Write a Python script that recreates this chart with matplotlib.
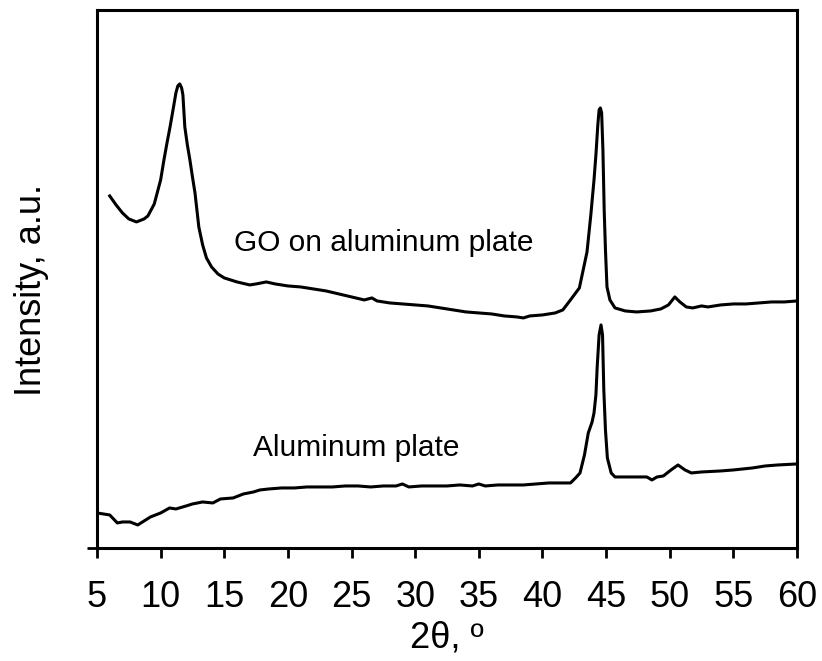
import matplotlib
matplotlib.use("Agg")
import matplotlib.pyplot as plt

plt.rcParams['font.family'] = ['Liberation Sans', 'DejaVu Sans']

# 2theta (deg) and intensity (a.u.)
go_x = [6.0, 6.5, 7.0, 7.5, 8.1, 8.7, 9.0, 9.5, 10.0, 10.26, 10.5, 10.74, 11.0, 11.2,
        11.35, 11.5, 11.65, 11.75, 11.9, 12.1, 12.3, 12.5, 12.7, 12.85, 13.0, 13.3,
        13.6, 14.0, 14.5, 15.0, 16.0, 17.0, 17.5, 18.3, 19.0,
        20.0, 21.0, 22.0, 23.0, 24.0, 25.0, 26.0, 26.6, 27.0, 28.0, 29.0, 30.0, 31.0,
        32.0, 33.0, 34.0, 35.0, 36.0, 37.0, 38.0, 38.5, 39.0, 40.0, 41.0, 41.6, 42.2,
        42.9, 43.5, 43.8, 44.05, 44.2, 44.35, 44.45, 44.55, 44.65, 44.75, 44.85, 44.95,
        45.07, 45.3, 45.7, 46.5, 47.4, 48.5,
        49.3, 49.9, 50.4, 50.8, 51.3, 51.8, 52.5, 53.0, 54.0, 55.0, 56.0, 57.0, 58.0,
        59.0, 60.0]
go_y = [352, 343, 335, 329, 326, 329, 332, 344, 368, 388, 405, 421, 440, 455,
        462, 464, 460, 453, 421, 403, 388, 371, 355, 338, 321, 303,
        290, 281, 274, 270, 266, 263, 264, 266, 264,
        262, 261, 259, 257, 254, 251, 248, 250, 247, 245, 244, 243, 242,
        240, 238, 236, 235, 234, 232, 231, 230, 232, 233, 235, 238, 248,
        260, 296, 333, 368, 393, 423, 438, 440, 435, 398, 338, 298,
        261, 248, 240, 237, 236, 237,
        239, 243, 251, 246, 241, 240, 242, 241, 243, 244, 244, 245, 246,
        246, 247]

al_x = [5.0, 5.5, 6.0, 6.6, 7.0, 7.6, 8.2, 8.7, 9.2, 10.0, 10.7, 11.2, 12.0, 12.5,
        13.3, 14.1, 14.7, 15.7, 16.5, 17.3, 17.8, 18.5, 19.5, 20.5, 21.5, 22.5, 23.5,
        24.5, 25.5, 26.5, 27.5, 28.5, 29.0, 29.5, 30.5, 31.5, 32.5, 33.5, 34.5, 35.0,
        35.5, 36.5, 37.5, 38.5, 39.5, 40.5, 41.5, 42.2, 42.6, 42.95, 43.3, 43.6, 43.9,
        44.05, 44.2, 44.3, 44.45, 44.6, 44.72, 44.82, 44.95, 45.1, 45.4, 45.7, 46.5,
        47.5, 48.2, 48.6, 49.0, 49.5, 50.1, 50.65,
        51.2, 51.7, 52.5, 54.0, 55.0, 56.5, 57.5, 58.5, 60.0]
al_y = [35, 34, 33, 25, 26, 26, 23, 27, 31, 35, 40, 39, 42, 44,
        46, 45, 49, 50, 54, 56, 58, 59, 60, 60, 61, 61, 61,
        62, 62, 61, 62, 62, 64, 61, 62, 62, 62, 63, 62, 64,
        62, 63, 63, 63, 64, 65, 65, 65, 70, 75, 93, 115, 126,
        135, 153, 181, 213, 223, 213, 158, 118, 90, 75, 71, 71,
        71, 71, 68, 71, 72, 78, 83,
        78, 75, 76, 77, 78, 80, 82, 83, 84]

xticks = list(range(5, 61, 5))

fig = plt.figure(figsize=(8.22, 6.61), dpi=100)
ax = fig.add_axes([0.118, 0.171, 0.8516, 0.814])

ax.plot(go_x, go_y, color='black', lw=2.2)
ax.plot(al_x, al_y, color='black', lw=2.2)

ax.text(27.55, 305, "GO on aluminum plate", fontsize=21.5, ha='center', va='center')
ax.text(25.4, 100, "Aluminum plate", fontsize=21.5, ha='center', va='center')

ax.set_xlim(5, 60)
ax.set_ylim(0, 538)
ax.set_xticks(xticks)
ax.set_yticks([0])
ax.set_yticklabels([''])
ax.tick_params(axis='both', direction='out', length=7, width=2, labelsize=26, pad=16)
for s in ax.spines.values():
    s.set_linewidth(2.2)

ax.set_xlabel("2θ, º", fontsize=26, labelpad=4)
ax.set_ylabel("Intensity, a.u.", fontsize=26)
ax.yaxis.set_label_coords(-0.068, 0.48)

fig.savefig("out.png", dpi=100)
